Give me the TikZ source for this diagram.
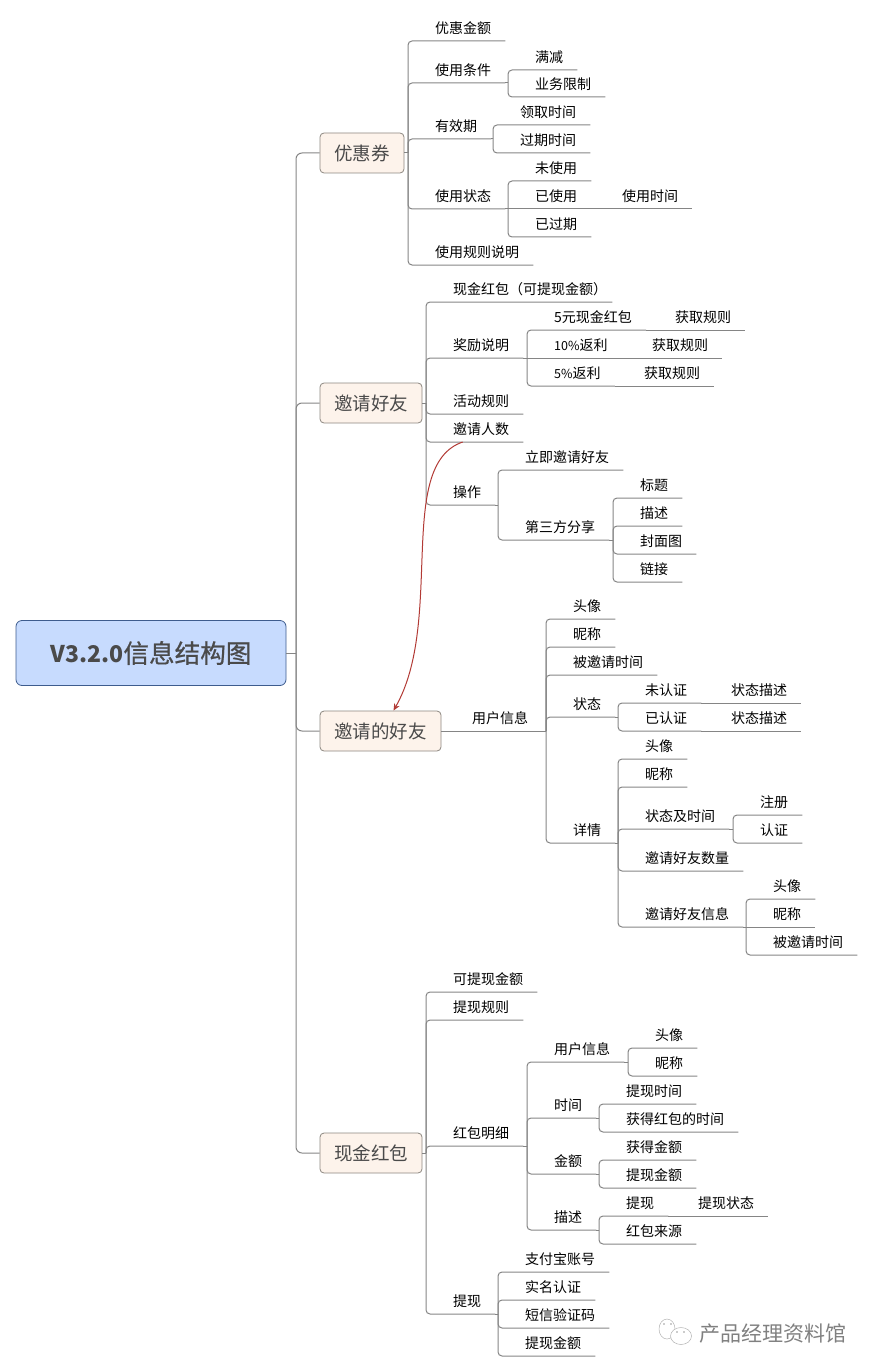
\documentclass[tikz,border=0pt]{standalone}
\usepackage{fontspec}
\setmainfont{Noto Sans CJK SC}
\newfontface\mRootFace[FakeBold=0.7]{Noto Sans CJK SC}
\usetikzlibrary{arrows.meta}
\definecolor{mLine}{HTML}{858585}
\definecolor{mEdge}{HTML}{8C8780}
\definecolor{mPeach}{HTML}{FDF3EB}
\definecolor{mBlue}{HTML}{C7DBFE}
\definecolor{mNavy}{HTML}{3E5C8E}
\definecolor{mInk}{HTML}{4A4A4A}
\definecolor{mRed}{HTML}{B23A35}
\tikzset{
  mLink/.style={draw=mLine, line width=1pt},
  mLeaf/.style={anchor=south west, inner xsep=0pt, inner ysep=0pt, minimum height=26pt, text height=11.5pt, text depth=1pt, font=\fontsize{14pt}{14pt}\selectfont, execute at begin node=\hspace*{27pt}, execute at end node=\hspace*{14pt}},
  mTopic/.style={draw=mEdge, fill=mPeach, rounded corners=4pt, line width=0.8pt, minimum height=40pt, inner sep=0pt, text=mInk, font=\fontsize{18.5pt}{18.5pt}\selectfont},
  mRoot/.style={draw=mNavy, fill=mBlue, rounded corners=6pt, line width=0.8pt, minimum width=270pt, minimum height=65pt, inner sep=0pt, text=mInk}
}
\newcommand{\mBranch}[3][south east]{%
  \draw[mLink] (#2.#1) -- (#2.#1 -| #3.south west);
  \draw[mLink, rounded corners=4pt] (#2.#1 -| #3.south west) |- (#3.south east);
}
\newcommand{\mInline}[3][south east]{%
  \draw[mLink] (#2.#1) -- (#3.south east);
}
\newcommand{\mSmall}[1]{{\fontsize{12.5pt}{14pt}\selectfont #1}}
\begin{document}
\begin{tikzpicture}[x=1pt,y=-1pt]
\useasboundingbox (0,0) rectangle (874,1372);
\node[mRoot] (root) at (151,653) {\fontsize{23pt}{23pt}\selectfont\bfseries V3.2.0\mRootFace\fontsize{25.6pt}{25.6pt}\selectfont 信息结构图};
\coordinate (spine) at (296,653);
\draw[mLink] (root.east) -- (spine);

\node[mTopic, minimum width=84pt] (cpn) at (362,153) {优惠券};
\node[mTopic, minimum width=102pt] (inv) at (371,403) {邀请好友};
\node[mTopic, minimum width=121pt] (frd) at (380.5,731) {邀请的好友};
\node[mTopic, minimum width=102pt] (red) at (371,1153) {现金红包};
\draw[mLink, rounded corners=6pt] (spine) |- (cpn.west);
\draw[mLink, rounded corners=6pt] (spine) |- (inv.west);
\draw[mLink, rounded corners=6pt] (spine) |- (frd.west);
\draw[mLink, rounded corners=6pt] (spine) |- (red.west);

\node[mLeaf] (cpn1) at (408,41) {优惠金额};
\node[mLeaf] (cpn2) at (408,83) {使用条件};
\node[mLeaf] (cpn21) at (508,70) {满减};
\node[mLeaf] (cpn22) at (508,97) {业务限制};
\node[mLeaf] (cpn3) at (408,139) {有效期};
\node[mLeaf] (cpn31) at (493,125) {领取时间};
\node[mLeaf] (cpn32) at (493,153) {过期时间};
\node[mLeaf] (cpn4) at (408,209) {使用状态};
\node[mLeaf] (cpn41) at (508,181) {未使用};
\node[mLeaf] (cpn42) at (508,209) {已使用};
\node[mLeaf] (cpn421) at (595,209) {使用时间};
\node[mLeaf] (cpn43) at (508,237) {已过期};
\node[mLeaf] (cpn5) at (408,265) {使用规则说明};
\mBranch[east]{cpn}{cpn1}
\mBranch[east]{cpn}{cpn2}
\mBranch[east]{cpn}{cpn3}
\mBranch[east]{cpn}{cpn4}
\mBranch[east]{cpn}{cpn5}
\mBranch{cpn2}{cpn21}
\mBranch{cpn2}{cpn22}
\mBranch{cpn3}{cpn31}
\mBranch{cpn3}{cpn32}
\mBranch{cpn4}{cpn41}
\mInline{cpn4}{cpn42}
\mBranch{cpn4}{cpn43}
\mInline{cpn42}{cpn421}

\node[mLeaf] (inv1) at (426,302) {现金红包（可提现金额）\hspace*{-9pt}};
\node[mLeaf] (inv2) at (426,358) {奖励说明};
\node[mLeaf] (inv21) at (527,330) {5元现金红包};
\node[mLeaf] (inv211) at (648,330) {获取规则};
\node[mLeaf] (inv22) at (527,358) {\mSmall{10\%}返利};
\node[mLeaf] (inv221) at (625,358) {获取规则};
\node[mLeaf] (inv23) at (527,386) {\mSmall{5\%}返利};
\node[mLeaf] (inv231) at (617,386) {获取规则};
\node[mLeaf] (inv3) at (426,414) {活动规则};
\node[mLeaf] (inv4) at (426,442) {邀请人数};
\node[mLeaf] (inv5) at (426,505) {操作};
\node[mLeaf] (inv51) at (498,470) {立即邀请好友};
\node[mLeaf] (inv52) at (498,540) {第三方分享};
\node[mLeaf] (inv521) at (613,498) {标题};
\node[mLeaf] (inv522) at (613,526) {描述};
\node[mLeaf] (inv523) at (613,554) {封面图};
\node[mLeaf] (inv524) at (613,582) {链接};
\mBranch[east]{inv}{inv1}
\mBranch[east]{inv}{inv2}
\mBranch[east]{inv}{inv3}
\mBranch[east]{inv}{inv4}
\mBranch[east]{inv}{inv5}
\mBranch{inv2}{inv21}
\mInline{inv2}{inv22}
\mBranch{inv2}{inv23}
\mInline{inv21}{inv211}
\mInline{inv22}{inv221}
\mInline{inv23}{inv231}
\mBranch{inv5}{inv51}
\mBranch{inv5}{inv52}
\mBranch{inv52}{inv521}
\mBranch{inv52}{inv522}
\mBranch{inv52}{inv523}
\mBranch{inv52}{inv524}

\node[mLeaf] (frd1) at (445,731) {用户信息};
\node[mLeaf] (frd11) at (546,619) {头像};
\node[mLeaf] (frd12) at (546,647) {昵称};
\node[mLeaf] (frd13) at (546,675) {被邀请时间};
\node[mLeaf] (frd14) at (546,717) {状态};
\node[mLeaf] (frd141) at (618,703) {未认证};
\node[mLeaf] (frd1411) at (704,703) {状态描述};
\node[mLeaf] (frd142) at (618,731) {已认证};
\node[mLeaf] (frd1421) at (704,731) {状态描述};
\node[mLeaf] (frd15) at (546,843) {详情};
\node[mLeaf] (frd151) at (618,759) {头像};
\node[mLeaf] (frd152) at (618,787) {昵称};
\node[mLeaf] (frd153) at (618,829) {状态及时间};
\node[mLeaf] (frd1531) at (733,815) {注册};
\node[mLeaf] (frd1532) at (733,843) {认证};
\node[mLeaf] (frd154) at (618,871) {邀请好友数量};
\node[mLeaf] (frd155) at (618,927) {邀请好友信息};
\node[mLeaf] (frd1551) at (746,899) {头像};
\node[mLeaf] (frd1552) at (746,927) {昵称};
\node[mLeaf] (frd1553) at (746,955) {被邀请时间};
\mInline[east]{frd}{frd1}
\mBranch{frd1}{frd11}
\mBranch{frd1}{frd12}
\mBranch{frd1}{frd13}
\mBranch{frd1}{frd14}
\mBranch{frd1}{frd15}
\mBranch{frd14}{frd141}
\mBranch{frd14}{frd142}
\mInline{frd141}{frd1411}
\mInline{frd142}{frd1421}
\mBranch{frd15}{frd151}
\mBranch{frd15}{frd152}
\mBranch{frd15}{frd153}
\mBranch{frd15}{frd154}
\mBranch{frd15}{frd155}
\mBranch{frd153}{frd1531}
\mBranch{frd153}{frd1532}
\mBranch{frd155}{frd1551}
\mInline{frd155}{frd1552}
\mBranch{frd155}{frd1553}

\node[mLeaf] (red1) at (426,992) {可提现金额};
\node[mLeaf] (red2) at (426,1020) {提现规则};
\node[mLeaf] (red3) at (426,1146) {红包明细};
\node[mLeaf] (red31) at (527,1062) {用户信息};
\node[mLeaf] (red311) at (628,1048) {头像};
\node[mLeaf] (red312) at (628,1076) {昵称};
\node[mLeaf] (red32) at (527,1118) {时间};
\node[mLeaf] (red321) at (599,1104) {提现时间};
\node[mLeaf] (red322) at (599,1132) {获得红包的时间};
\node[mLeaf] (red33) at (527,1174) {金额};
\node[mLeaf] (red331) at (599,1160) {获得金额};
\node[mLeaf] (red332) at (599,1188) {提现金额};
\node[mLeaf] (red34) at (527,1230) {描述};
\node[mLeaf] (red341) at (599,1216) {提现};
\node[mLeaf] (red3411) at (671,1216) {提现状态};
\node[mLeaf] (red342) at (599,1244) {红包来源};
\node[mLeaf] (red4) at (426,1314) {提现};
\node[mLeaf] (red41) at (498,1272) {支付宝账号};
\node[mLeaf] (red42) at (498,1300) {实名认证};
\node[mLeaf] (red43) at (498,1328) {短信验证码};
\node[mLeaf] (red44) at (498,1356) {提现金额};
\mBranch[east]{red}{red1}
\mBranch[east]{red}{red2}
\mBranch[east]{red}{red3}
\mBranch[east]{red}{red4}
\mBranch{red3}{red31}
\mBranch{red3}{red32}
\mBranch{red3}{red33}
\mBranch{red3}{red34}
\mBranch{red31}{red311}
\mBranch{red31}{red312}
\mBranch{red32}{red321}
\mBranch{red32}{red322}
\mBranch{red33}{red331}
\mBranch{red33}{red332}
\mBranch{red34}{red341}
\mBranch{red34}{red342}
\mInline{red341}{red3411}
\mBranch{red4}{red41}
\mBranch{red4}{red42}
\mBranch{red4}{red43}
\mBranch{red4}{red44}

\draw[draw=mRed, line width=1pt, -{Stealth[length=7pt,width=6pt]}] ([xshift=-12pt]inv4.south) .. controls (395,465) and (445,620) .. ([xshift=13pt]frd.north);

\node[anchor=west, inner sep=0pt, text=black!50, font=\fontsize{21pt}{21pt}\selectfont] (mark) at (699,1334) {产品经理资料馆};
\draw[black!30, line width=0.5pt] (667,1329) ellipse (8 and 10);
\draw[black!30, fill=white, line width=0.5pt] (681,1336) ellipse (10.5 and 8.5);
\fill[black!40] (664,1324) circle (0.8) (671,1324) circle (0.8) (677,1332) circle (0.8) (684,1332) circle (0.8);
\end{tikzpicture}
\end{document}
